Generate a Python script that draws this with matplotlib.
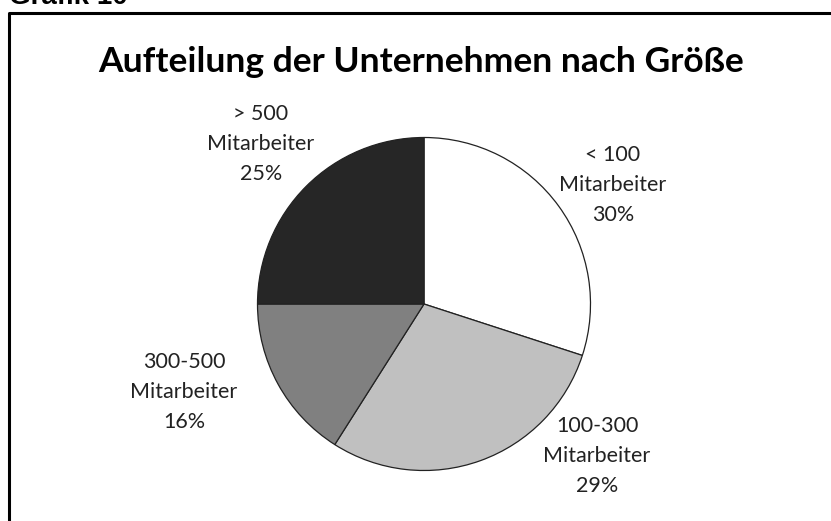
import matplotlib
matplotlib.use("Agg")
import matplotlib.pyplot as plt

categories = ["< 100\nMitarbeiter", "100-300\nMitarbeiter", "300-500\nMitarbeiter", "> 500\nMitarbeiter"]
values = [30, 29, 16, 25]
colors = ["#ffffff", "#c0c0c0", "#808080", "#262626"]
title = "Aufteilung der Unternehmen nach Größe"
header = "Grafik 10"

W, H = 831, 521
fig = plt.figure(figsize=(W / 100, H / 100), dpi=100)
ax = fig.add_axes([0, 0, 1, 1])
ax.set_xlim(0, W)
ax.set_ylim(0, H)
ax.set_aspect("equal")
ax.axis("off")

# frame
ax.plot([9, 9, W + 5], [-5, H - 13, H - 13], color="black", lw=2.2, solid_capstyle="butt")

fig.text(9 / W, 1 - 4 / H, header, fontsize=20, fontweight="bold",
         family="Liberation Sans", va="baseline", ha="left")

ax.text(421, H - 72, title, fontsize=25.5, fontweight="bold", family="Lato",
        ha="center", va="baseline")

wedges, _ = ax.pie(values, colors=colors, startangle=90, counterclock=False,
                   center=(424, H - 304), radius=166.5,
                   wedgeprops=dict(edgecolor="#222222", linewidth=0.9))
ax.set_xlim(0, W)
ax.set_ylim(0, H)

label_pos = [(613, 185), (597, 456), (184, 392), (261, 144)]
for (x, y), cat, v in zip(label_pos, categories, values):
    ax.text(x, H - y, f"{cat}\n{v}%", ha="center", va="center", fontsize=15.5,
            family="Lato", linespacing=1.6, color="#222222")

fig.savefig("out.png", dpi=100)
